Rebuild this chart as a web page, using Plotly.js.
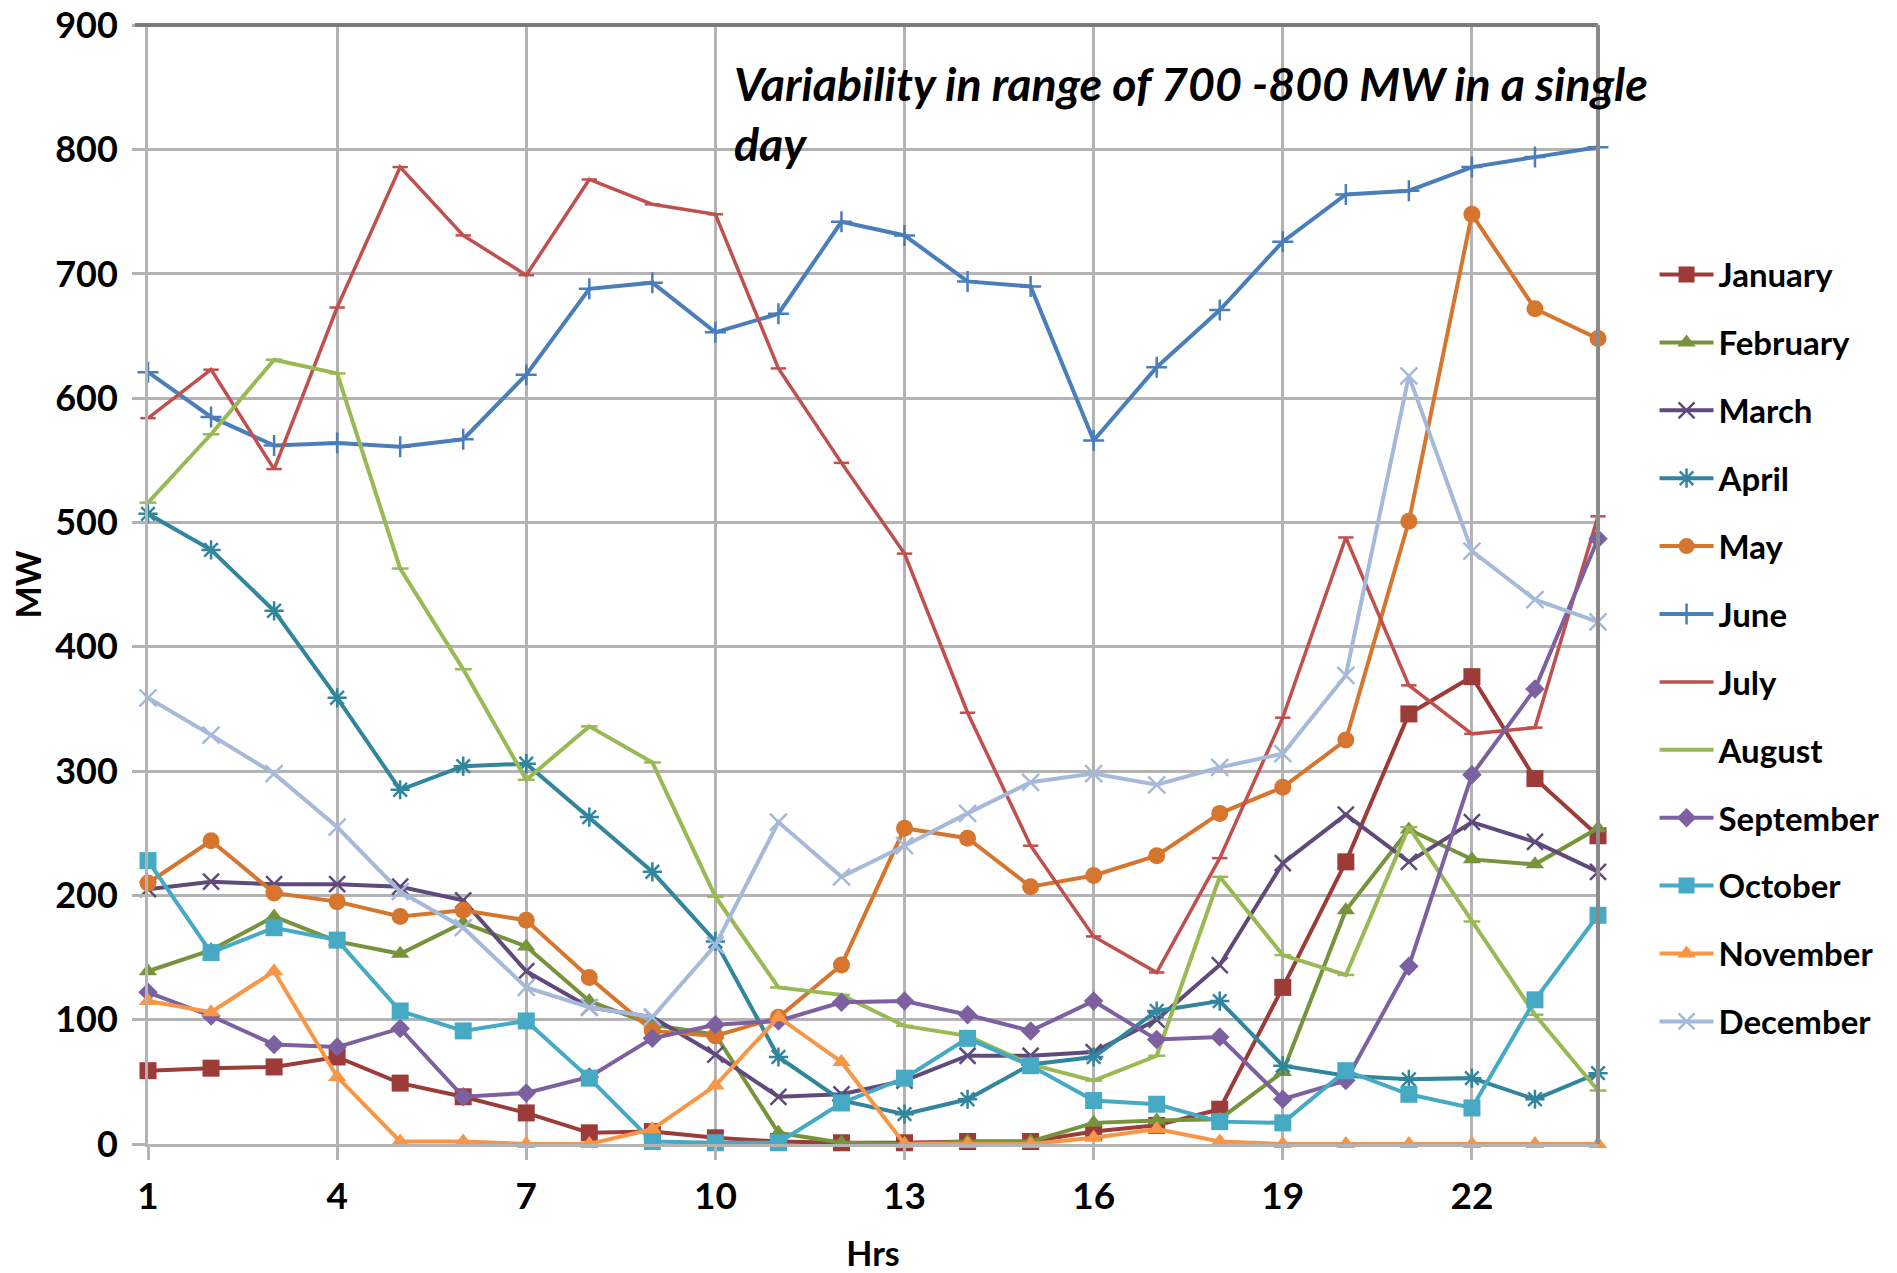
<!DOCTYPE html>
<html>
<head>
<meta charset="utf-8">
<script src="https://cdn.plot.ly/plotly-3.0.1.min.js"></script>
<style>
  html, body { margin: 0; padding: 0; background: #ffffff; }
  #chart { width: 1897px; height: 1273px; }
</style>
</head>
<body>
<div id="chart"></div>
<script>
// ---------------- data ----------------
const hours = [1, 2, 3, 4, 5, 6, 7, 8, 9, 10, 11, 12, 13, 14, 15, 16, 17, 18, 19, 20, 21, 22, 23, 24];
const xTickVals = [1, 4, 7, 10, 13, 16, 19, 22];
const yTickVals = [0, 100, 200, 300, 400, 500, 600, 700, 800, 900];

const monthNames = ['January', 'February', 'March', 'April', 'May', 'June',
                    'July', 'August', 'September', 'October', 'November', 'December'];

const january   = [59, 61, 62, 70, 49, 38, 25, 9, 10, 5, 2, 1, 1, 2, 2, 10, 15, 28, 126, 227, 346, 376, 294, 248];
const february  = [139, 156, 183, 163, 153, 178, 159, 115, 96, 88, 9, 1, 0, 2, 2, 17, 19, 20, 58, 188, 253, 229, 225, 254];
const march     = [205, 211, 209, 209, 207, 196, 139, 110, 102, 72, 38, 40, 51, 71, 71, 74, 100, 144, 226, 265, 227, 259, 243, 219];
const april     = [507, 478, 429, 359, 285, 304, 306, 263, 219, 163, 70, 35, 24, 36, 64, 70, 107, 115, 63, 55, 52, 53, 36, 57];
const may       = [210, 244, 202, 195, 183, 188, 180, 134, 91, 87, 102, 144, 254, 246, 207, 216, 232, 266, 287, 325, 501, 748, 672, 648];
const june      = [621, 585, 562, 564, 561, 567, 619, 688, 693, 653, 668, 742, 731, 694, 690, 566, 625, 671, 726, 764, 767, 786, 794, 802];
const july      = [584, 623, 543, 673, 786, 731, 699, 776, 756, 748, 624, 548, 475, 347, 240, 167, 138, 230, 343, 488, 369, 330, 335, 505];
const august    = [516, 571, 631, 620, 463, 382, 293, 336, 307, 199, 126, 120, 95, 87, 64, 51, 71, 215, 152, 136, 255, 179, 104, 43];
const september = [122, 103, 80, 78, 93, 38, 41, 54, 85, 96, 99, 114, 115, 104, 91, 115, 84, 86, 36, 51, 143, 297, 366, 487];
const october   = [228, 154, 174, 164, 107, 91, 99, 53, 2, 1, 1, 33, 53, 85, 63, 35, 32, 18, 17, 59, 40, 29, 116, 184];
const november  = [115, 106, 139, 54, 2, 2, 0, 0, 12, 47, 102, 66, 0, 0, 0, 5, 12, 2, 0, 0, 0, 0, 0, 0];
const december  = [359, 329, 298, 255, 203, 174, 126, 110, 102, 160, 259, 215, 240, 266, 291, 298, 289, 303, 314, 377, 618, 477, 438, 420];

const seriesValues = [january, february, march, april, may, june, july, august, september, october, november, december];

const annotationText = 'Variability in range of 700 -800 MW in a single<br>day';
const xTitle = 'Hrs';
const yTitle = 'MW';

// ---------------- styles ----------------
const styles = [
  { color: '#9c3b38', width: 4,   symbol: 'square',          size: 17, open: false },
  { color: '#77933c', width: 4,   symbol: 'triangle-up',     size: 16, open: false },
  { color: '#604a7b', width: 4,   symbol: 'x-thin-open',     size: 16, open: true  },
  { color: '#31859c', width: 4,   symbol: 'asterisk-open',   size: 16, open: true  },
  { color: '#d6762e', width: 4,   symbol: 'circle',          size: 17, open: false },
  { color: '#4a7ebb', width: 4,   symbol: 'cross-thin-open', size: 15, open: true  },
  { color: '#c0504d', width: 3.5, symbol: 'line-ew-open',    size: 11, open: true  },
  { color: '#98b954', width: 4,   symbol: 'line-ew-open',    size: 12, open: true  },
  { color: '#7d60a0', width: 4,   symbol: 'diamond',         size: 15, open: false },
  { color: '#46aac5', width: 4,   symbol: 'square',          size: 17, open: false },
  { color: '#f79646', width: 4,   symbol: 'triangle-up',     size: 16, open: false },
  { color: '#a5b9da', width: 4,   symbol: 'x-thin-open',     size: 17, open: true  }
];

const traces = monthNames.map((name, i) => {
  const s = styles[i];
  return {
    type: 'scatter',
    mode: 'lines+markers',
    name: name,
    x: hours,
    y: seriesValues[i],
    legendgroup: name,
    cliponaxis: false,
    line: { color: s.color, width: s.width },
    marker: {
      symbol: s.symbol,
      size: s.size,
      color: s.color,
      line: { color: s.color, width: s.open ? 2.5 : 0 }
    }
  };
});

const gridCol = '#b3b3b3';
const fontFam = 'Lato, "Open Sans", "DejaVu Sans", sans-serif';

const layout = {
  width: 1897,
  height: 1273,
  paper_bgcolor: '#ffffff',
  plot_bgcolor: '#ffffff',
  margin: { l: 148, r: 297, t: 25, b: 129, pad: 0 },
  font: { family: fontFam, size: 34, color: '#000000' },
  showlegend: true,
  legend: {
    x: 1.039, xanchor: 'left',
    y: 0.802, yanchor: 'top',
    traceorder: 'grouped',
    tracegroupgap: 22,
    itemwidth: 54,
    font: { family: fontFam, size: 33, color: '#000000', weight: 700 },
    bgcolor: 'rgba(0,0,0,0)'
  },
  xaxis: {
    range: [1, 24],
    tickmode: 'array',
    tickvals: xTickVals,
    ticktext: xTickVals.map(String),
    showgrid: true,
    gridcolor: gridCol,
    gridwidth: 3,
    zeroline: false,
    showline: true,
    linecolor: gridCol,
    linewidth: 3,
    ticks: 'outside',
    ticklen: 13,
    tickwidth: 3,
    tickcolor: gridCol,
    ticklabelstandoff: 5,
    ticklabeloverflow: 'allow',
    tickfont: { family: fontFam, size: 37, color: '#000000', weight: 700 },
    title: { text: xTitle, font: { family: fontFam, size: 34, color: '#000000', weight: 700 }, standoff: 37 }
  },
  yaxis: {
    range: [0, 900.3],
    tickmode: 'array',
    tickvals: yTickVals,
    ticktext: yTickVals.map(String),
    showgrid: true,
    gridcolor: gridCol,
    gridwidth: 3,
    zeroline: false,
    showline: true,
    linecolor: gridCol,
    linewidth: 3,
    ticks: 'outside',
    ticklen: 13,
    tickwidth: 3,
    tickcolor: gridCol,
    ticklabelstandoff: 7,
    ticklabeloverflow: 'allow',
    tickfont: { family: fontFam, size: 36, color: '#000000', weight: 700 },
    title: { text: yTitle, font: { family: fontFam, size: 34, color: '#000000', weight: 700 }, standoff: 4 }
  },
  shapes: [
    { type: 'line', xref: 'paper', yref: 'paper', x0: -0.009, x1: 1.0, y0: 1, y1: 1,
      line: { color: '#7a7a7a', width: 4 } },
    { type: 'line', xref: 'paper', yref: 'paper', x0: 1, x1: 1, y0: 0, y1: 1,
      line: { color: '#8a8a8a', width: 4 } }
  ],
  annotations: [
    {
      xref: 'paper', yref: 'paper',
      x: 0.403, y: 0.975,
      xanchor: 'left', yanchor: 'top',
      align: 'left',
      showarrow: false,
      text: annotationText,
      font: { family: fontFam, size: 46.5, color: '#000000', weight: 700, style: 'italic' }
    }
  ]
};

Plotly.newPlot('chart', traces, layout, { staticPlot: true, displayModeBar: false });
</script>
</body>
</html>
